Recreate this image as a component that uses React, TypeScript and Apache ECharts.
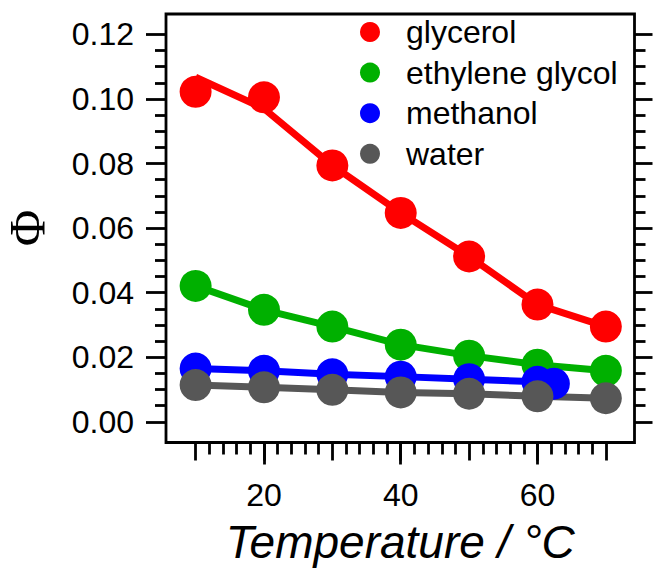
import React, { useEffect, useRef } from "react";
import * as echarts from "echarts";

// Measurement temperatures (°C)
const temperatures = [10, 20, 30, 40, 50, 60, 70];
const methanolTemperatures = [10, 20, 30, 40, 50, 60, 62.4];

// Quantum yield Φ per solvent
const glycerol = [0.1022, 0.1005, 0.0794, 0.0647, 0.0512, 0.0363, 0.0295];
const glycerolTrend = [0.1067, 0.097, 0.0794, 0.0647, 0.0512, 0.0363, 0.0295];
const ethyleneGlycol = [0.0421, 0.0347, 0.0295, 0.0239, 0.0205, 0.0177, 0.0158];
const methanol = [0.0165, 0.0158, 0.0147, 0.014, 0.0132, 0.0124, 0.0118];
const water = [0.0114, 0.0107, 0.0099, 0.0091, 0.0087, 0.0079, 0.0073];

const solventNames = ["glycerol", "ethylene glycol", "methanol", "water"];
const solventColors = ["#ff0000", "#00b000", "#0000ff", "#575757"];

// Tick ranges
const xTickRange = [10, 70];
const xLabelRange = [20, 60];
const yTickRange = [0, 0.12];

// Plot frame (data range and its pixel box)
const xFrame = [5.67, 74.19];
const yFrame = [-0.0064, 0.1263];
const FRAME = { left: 166, top: 14, right: 634.5, bottom: 442.5 };

const SANS = "'Liberation Sans', Arial, sans-serif";
const SERIF = "'Liberation Serif', 'Times New Roman', serif";

const px = (v: number) =>
  FRAME.left + ((v - xFrame[0]) / (xFrame[1] - xFrame[0])) * (FRAME.right - FRAME.left);
const py = (v: number) =>
  FRAME.bottom - ((v - yFrame[0]) / (yFrame[1] - yFrame[0])) * (FRAME.bottom - FRAME.top);

const pairs = (xs: number[], ys: number[]) => xs.map((x, i) => [x, ys[i]]);

const hiddenAxis = (gridIndex: number) => ({
  gridIndex,
  type: "value" as const,
  show: false,
});

export default function App() {
  const ref = useRef<HTMLDivElement>(null);

  useEffect(() => {
    if (!ref.current) return;
    const chart = echarts.init(ref.current, undefined, { renderer: "svg" });

    const tickLine = { color: "#000", width: 2.8 };
    const markerSeries = (name: string, xs: number[], ys: number[], color: string) => ({
      name,
      type: "line" as const,
      xAxisIndex: 0,
      yAxisIndex: 0,
      data: pairs(xs, ys),
      symbol: "circle",
      symbolSize: 32,
      showSymbol: true,
      itemStyle: { color, opacity: 1 },
      lineStyle: { color, width: 7 },
      clip: false,
      z: 3,
    });

    chart.setOption({
      animation: false,
      backgroundColor: "#fff",
      legend: {
        data: solventNames,
        orient: "vertical",
        left: 355,
        top: 11,
        icon: "circle",
        itemWidth: 20,
        itemHeight: 20,
        itemGap: 8.6,
        selectedMode: false,
        itemStyle: { opacity: 1 },
        textStyle: {
          fontFamily: SANS,
          fontSize: 32,
          color: "#000",
          padding: [0, 0, 0, 21],
        },
      },
      grid: [
        {
          left: FRAME.left,
          top: FRAME.top,
          width: FRAME.right - FRAME.left,
          height: FRAME.bottom - FRAME.top,
          show: true,
          borderColor: "#000",
          borderWidth: 2.8,
          backgroundColor: "transparent",
          outerBoundsMode: "none",
        },
        {
          left: FRAME.left,
          top: py(yTickRange[1]),
          width: FRAME.right - FRAME.left,
          height: py(yTickRange[0]) - py(yTickRange[1]),
          outerBoundsMode: "none",
        },
        {
          left: px(xTickRange[0]),
          top: 100,
          width: px(xTickRange[1]) - px(xTickRange[0]),
          height: FRAME.bottom - 100,
          outerBoundsMode: "none",
        },
        {
          left: px(xLabelRange[0]),
          top: 100,
          width: px(xLabelRange[1]) - px(xLabelRange[0]),
          height: FRAME.bottom - 100,
          outerBoundsMode: "none",
        },
      ],
      xAxis: [
        {
          gridIndex: 0,
          type: "value",
          min: xFrame[0],
          max: xFrame[1],
          axisLine: { show: false },
          axisTick: { show: false },
          axisLabel: { show: false },
          splitLine: { show: false },
          name: "Temperature / °C",
          nameLocation: "middle",
          nameGap: 76,
          nameTextStyle: {
            fontFamily: SANS,
            fontStyle: "italic",
            fontSize: 46,
            color: "#000",
          },
        },
        hiddenAxis(1),
        {
          gridIndex: 2,
          type: "value",
          min: xTickRange[0],
          max: xTickRange[1],
          interval: 10,
          axisLine: { show: false },
          axisTick: { show: true, length: 18, lineStyle: tickLine },
          minorTick: { show: true, splitNumber: 5, length: 12, lineStyle: tickLine },
          axisLabel: { show: false },
          splitLine: { show: false },
        },
        {
          gridIndex: 3,
          type: "value",
          min: xLabelRange[0],
          max: xLabelRange[1],
          interval: 20,
          axisLine: { show: false },
          axisTick: { show: true, length: 22, lineStyle: tickLine },
          axisLabel: {
            show: true,
            margin: 36,
            fontFamily: SANS,
            fontSize: 32,
            color: "#000",
          },
          splitLine: { show: false },
        },
      ],
      yAxis: [
        {
          gridIndex: 0,
          type: "value",
          min: yFrame[0],
          max: yFrame[1],
          axisLine: { show: false },
          axisTick: { show: false },
          axisLabel: { show: false },
          splitLine: { show: false },
        },
        {
          gridIndex: 1,
          type: "value",
          position: "left",
          min: yTickRange[0],
          max: yTickRange[1],
          interval: 0.02,
          axisLine: { show: false },
          axisTick: { show: true, length: 20, lineStyle: tickLine },
          minorTick: { show: true, splitNumber: 4, length: 11, lineStyle: tickLine },
          axisLabel: {
            show: true,
            margin: 32,
            fontFamily: SANS,
            fontSize: 32,
            color: "#000",
            formatter: (v: number) => v.toFixed(2),
          },
          splitLine: { show: false },
          name: "Φ",
          nameLocation: "middle",
          nameRotate: 90,
          nameGap: 114,
          nameTextStyle: { fontFamily: SERIF, fontSize: 50, color: "#000" },
        },
        {
          gridIndex: 1,
          type: "value",
          position: "right",
          min: yTickRange[0],
          max: yTickRange[1],
          interval: 0.02,
          axisLine: { show: false },
          axisTick: { show: true, length: 18, lineStyle: tickLine },
          minorTick: { show: true, splitNumber: 4, length: 11, lineStyle: tickLine },
          axisLabel: { show: false },
          splitLine: { show: false },
        },
        hiddenAxis(2),
        hiddenAxis(3),
      ],
      series: [
        {
          name: "glycerol trend",
          type: "line",
          xAxisIndex: 0,
          yAxisIndex: 0,
          data: pairs(temperatures, glycerolTrend),
          showSymbol: false,
          symbol: "none",
          lineStyle: { color: solventColors[0], width: 7 },
          clip: false,
          z: 2,
        },
        {
          name: solventNames[0],
          type: "scatter",
          xAxisIndex: 0,
          yAxisIndex: 0,
          data: pairs(temperatures, glycerol),
          symbol: "circle",
          symbolSize: 32,
          itemStyle: { color: solventColors[0], opacity: 1 },
          clip: false,
          z: 3,
        },
        markerSeries(solventNames[1], temperatures, ethyleneGlycol, solventColors[1]),
        markerSeries(solventNames[2], methanolTemperatures, methanol, solventColors[2]),
        markerSeries(solventNames[3], temperatures, water, solventColors[3]),
      ],
    });

    return () => chart.dispose();
  }, []);

  return (
    <div
      ref={ref}
      style={{ position: "absolute", left: 0, top: 0, width: 653, height: 571 }}
    />
  );
}
